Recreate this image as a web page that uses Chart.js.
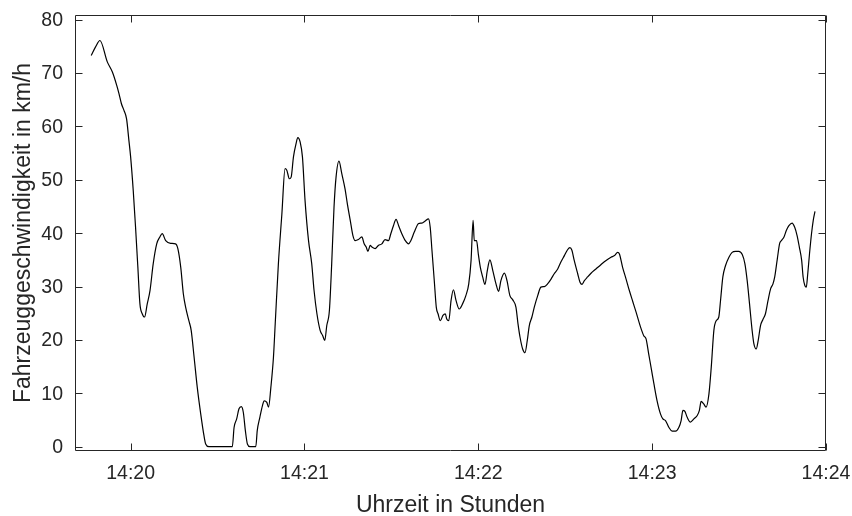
<!DOCTYPE html>
<html>
<head>
<meta charset="utf-8">
<script src="https://cdn.jsdelivr.net/npm/chart.js@4"></script>
<style>
  html, body { margin: 0; padding: 0; background: #fff; }
  #wrap { width: 852px; height: 516px; }
</style>
</head>
<body>
<div id="wrap"><canvas id="c" width="852" height="516"></canvas></div>
<script>
// Zeit in Sekunden nach 14:20:00
const timeSec = [
  -13.6, -12.1, -10.6, -8.05, -6.3, -4.8, -4.0, -3.2, -2.3, -1.4, -0.6, 0.0,
  0.9, 1.7, 2.5, 3.2, 4.0, 4.8, 5.75, 6.7, 7.8, 9.0, 10.1, 10.9, 12.1, 13.8,
  15.5, 16.3, 17.3, 18.2, 19.0, 20.1, 20.9, 21.9, 23.0, 24.2, 25.3, 25.9, 27.0,
  35.1, 35.7, 36.6, 37.4, 38.2, 38.9, 39.6, 40.3, 41.2, 43.2, 43.7, 44.6, 45.5,
  46.1, 47.0, 47.6, 48.4, 49.3, 49.9, 51.0, 52.2, 53.3, 53.9, 54.8, 55.4, 56.2,
  57.1, 57.7, 58.5, 59.3, 60.2, 61.4, 62.5, 63.3, 64.3, 65.4, 66.3, 67.0, 67.7,
  68.6, 69.4, 70.2, 70.9, 71.9, 72.9, 74.0, 74.8, 75.8, 76.7, 77.5, 78.6, 79.8,
  80.6, 81.3, 81.9, 82.7, 83.3, 84.4, 85.5, 86.7, 87.8, 89.0, 89.8, 90.7, 91.6,
  92.5, 93.6, 94.8, 95.9, 96.7, 97.9, 99.4, 100.5, 101.7, 102.8, 103.4, 104.0,
  104.8, 105.5, 106.1, 106.9, 107.8, 108.6, 109.1, 109.8, 110.6, 111.4, 112.3,
  113.4, 114.6, 115.7, 116.7, 117.5, 118.2, 118.6, 119.4, 120.0, 120.7, 121.5,
  122.3, 123.1, 124.0, 125.0, 126.1, 127.0, 127.8, 129.0, 129.9, 130.9, 131.9,
  133.0, 133.7, 134.4, 135.3, 136.1, 136.9, 137.6, 138.5, 139.3, 140.5, 141.6,
  142.8, 143.9, 145.1, 146.2, 147.4, 148.5, 149.7, 150.8, 151.6, 152.3, 153.1,
  154.3, 155.1, 155.8, 156.6, 157.7, 158.9, 160.6, 162.3, 164.1, 165.8, 167.0,
  168.1, 168.7, 169.8, 171.0, 172.1, 173.3, 174.4, 176.0, 177.1, 177.9, 178.8,
  179.8, 180.6, 181.7, 182.9, 183.7, 184.6, 185.8, 186.9, 188.1, 189.2, 190.0,
  190.6, 191.3, 192.1, 193.2, 194.4, 195.5, 196.3, 196.9, 197.8, 198.6, 199.6,
  200.4, 201.3, 202.1, 203.0, 203.6, 204.4, 205.3, 206.5, 207.6, 208.8, 209.9,
  211.1, 212.0, 212.8, 213.6, 214.5, 215.1, 215.9, 216.6, 217.4, 218.2, 219.1,
  220.0, 220.9, 221.7, 222.3, 223.2, 224.0, 224.6, 225.5, 226.3, 227.2, 228.3,
  229.2, 230.0, 230.8, 231.6, 232.1, 232.7, 233.2, 233.7, 234.3, 235.0, 235.6,
  236.2
];

// Fahrzeuggeschwindigkeit in km/h
const speedKmh = [
  73.3, 74.9, 76.1, 72.1, 70.2, 67.7, 66.1, 64.3, 63.0, 61.4, 57.4, 54.3,
  48.0, 41.1, 33.6, 26.8, 24.9, 24.3, 26.8, 29.3, 34.3, 38.0, 39.3, 39.9, 38.6, 38.1,
  38.0, 37.1, 33.6, 28.6, 26.1, 23.6, 21.8, 16.8, 11.1, 6.1, 2.1, 0.5, 0.0,
  0.0, 3.6, 5.2, 7.1, 7.5, 6.4, 3.0, 0.5, 0.0, 0.0, 3.0, 5.5, 7.7,
  8.6, 8.3, 7.4, 11.1, 16.8, 23.0, 34.3, 43.6, 52.1, 51.8, 50.2, 50.5, 54.3,
  56.8, 57.9, 57.1, 54.3, 46.1, 38.6, 34.3, 29.3, 24.9, 21.8, 20.8, 19.9, 22.7,
  25.5, 34.3, 44.9, 50.5, 53.5, 51.1, 48.3, 45.5, 42.4, 39.6, 38.6, 38.8, 39.3,
  38.0, 37.4, 36.6, 37.7, 37.4, 37.1, 37.7, 38.0, 38.8, 38.6, 39.9, 41.4, 42.6,
  41.4, 39.9, 38.6, 38.0, 38.6, 40.2, 41.8, 41.9, 42.3, 42.7, 41.1, 36.8,
  31.1, 26.1, 24.9, 23.6, 24.6, 24.9, 23.9, 23.6, 27.4, 29.4, 27.4,
  25.8, 26.8, 28.3, 30.5, 34.9, 42.4, 38.6, 38.6, 36.1, 33.6, 31.8,
  30.4, 33.0, 35.0, 33.0, 30.5, 29.1, 31.1, 32.5, 31.1, 28.3, 27.5,
  26.1, 23.0, 20.5, 18.3, 17.6, 19.9, 22.7, 24.3, 26.1, 28.3, 29.9,
  30.0, 30.5, 31.4, 32.4, 33.3, 34.6, 35.8, 36.9, 37.3, 36.8, 34.9,
  32.4, 30.8, 30.4, 31.1, 31.8, 32.5, 33.3, 34.1, 34.9, 35.5, 35.8,
  36.4, 36.1, 33.6, 31.4, 29.3, 27.2, 25.3, 22.4, 20.8, 20.2, 17.4,
  14.3, 11.8, 8.6, 6.1, 5.2, 4.9, 3.6, 2.9, 2.9, 3.6, 4.9,
  6.8, 6.6, 5.5, 4.6, 5.2, 5.8, 6.8, 8.5, 8.0, 7.4, 9.9,
  14.9, 21.8, 23.6, 24.3, 27.4, 31.8, 33.9, 35.5, 36.4, 36.6, 36.6,
  36.0, 34.3, 31.1, 26.8, 21.8, 19.3, 18.3, 19.9, 22.7, 23.8, 24.9,
  27.4, 29.6, 30.5, 31.8, 35.2, 38.1, 38.6, 39.3, 40.5, 41.4, 41.9,
  41.1, 39.6, 37.4, 34.9, 31.8, 30.2, 29.9, 32.4, 36.1, 39.9, 42.4,
  44.1
];

const xTickSec = [0, 60, 120, 180, 240];
const xTickLabels = ['14:20', '14:21', '14:22', '14:23', '14:24'];
const yTickValues = [0, 10, 20, 30, 40, 50, 60, 70, 80];

const axisColor = '#262626';
const fontFamily = '"Liberation Sans", Arial, Helvetica, sans-serif';

// Keine zusätzlichen Randabstände durch die Beschriftung: der Plotbereich
// wird allein über layout.padding und die festen Achsmaße bestimmt.
function clearScalePadding(s) {
  s.paddingTop = 0;
  s.paddingBottom = 0;
  s.paddingLeft = 0;
  s.paddingRight = 0;
}

// Rahmen und nach innen zeigende Teilstriche auf allen vier Seiten
const boxTicks = {
  id: 'boxTicks',
  afterDatasetsDraw(chart) {
    const { ctx, chartArea: a, scales: { x, y } } = chart;
    const len = 7;
    const l = Math.round(a.left) + 0.5;
    const r = Math.round(a.right) - 0.5;
    const t = Math.round(a.top) + 0.5;
    const b = Math.round(a.bottom) - 0.5;
    ctx.save();
    ctx.strokeStyle = axisColor;
    ctx.lineWidth = 1;
    ctx.beginPath();
    ctx.rect(l, t, r - l, b - t);
    x.ticks.forEach(tk => {
      const px = Math.round(x.getPixelForValue(tk.value)) + 0.5;
      ctx.moveTo(px, b); ctx.lineTo(px, b - len);
      ctx.moveTo(px, t); ctx.lineTo(px, t + len);
    });
    y.ticks.forEach(tk => {
      const py = Math.round(y.getPixelForValue(tk.value)) + 0.5;
      ctx.moveTo(l, py); ctx.lineTo(l + len, py);
      ctx.moveTo(r, py); ctx.lineTo(r - len, py);
    });
    ctx.stroke();
    ctx.restore();
  }
};

new Chart(document.getElementById('c'), {
  type: 'line',
  data: {
    datasets: [{
      data: timeSec.map((t, i) => ({ x: t, y: speedKmh[i] })),
      borderColor: '#000',
      borderWidth: 1.2,
      pointRadius: 0,
      fill: false,
      cubicInterpolationMode: 'monotone'
    }]
  },
  options: {
    responsive: false,
    animation: false,
    events: [],
    layout: { padding: { top: 15, right: 26, left: 0, bottom: 0 } },
    plugins: { legend: { display: false }, tooltip: { enabled: false } },
    scales: {
      x: {
        type: 'linear',
        min: -19.2,
        max: 240,
        border: { display: false },
        grid: { display: false, drawTicks: false },
        afterBuildTicks: s => { s.ticks = xTickSec.map(v => ({ value: v })); },
        afterFit: s => { s.height = 65; clearScalePadding(s); },
        ticks: {
          color: axisColor,
          padding: 11,
          maxRotation: 0,
          autoSkip: false,
          font: { family: fontFamily, size: 19.5 },
          callback: (v) => xTickLabels[xTickSec.indexOf(v)]
        },
        title: {
          display: true,
          text: 'Uhrzeit in Stunden',
          color: axisColor,
          padding: 0,
          font: { family: fontFamily, size: 23, lineHeight: 0.94 }
        }
      },
      y: {
        type: 'linear',
        min: -0.81,
        max: 80.88,
        border: { display: false },
        grid: { display: false, drawTicks: false },
        afterBuildTicks: s => { s.ticks = yTickValues.map(v => ({ value: v })); },
        afterFit: s => { s.width = 75; clearScalePadding(s); },
        ticks: {
          color: axisColor,
          padding: 12,
          labelOffset: 1,
          font: { family: fontFamily, size: 19.5 }
        },
        title: {
          display: true,
          text: 'Fahrzeuggeschwindigkeit in km/h',
          color: axisColor,
          padding: { top: 9.7, bottom: 0 },
          font: { family: fontFamily, size: 23 }
        }
      }
    }
  },
  plugins: [boxTicks]
});
</script>
</body>
</html>
